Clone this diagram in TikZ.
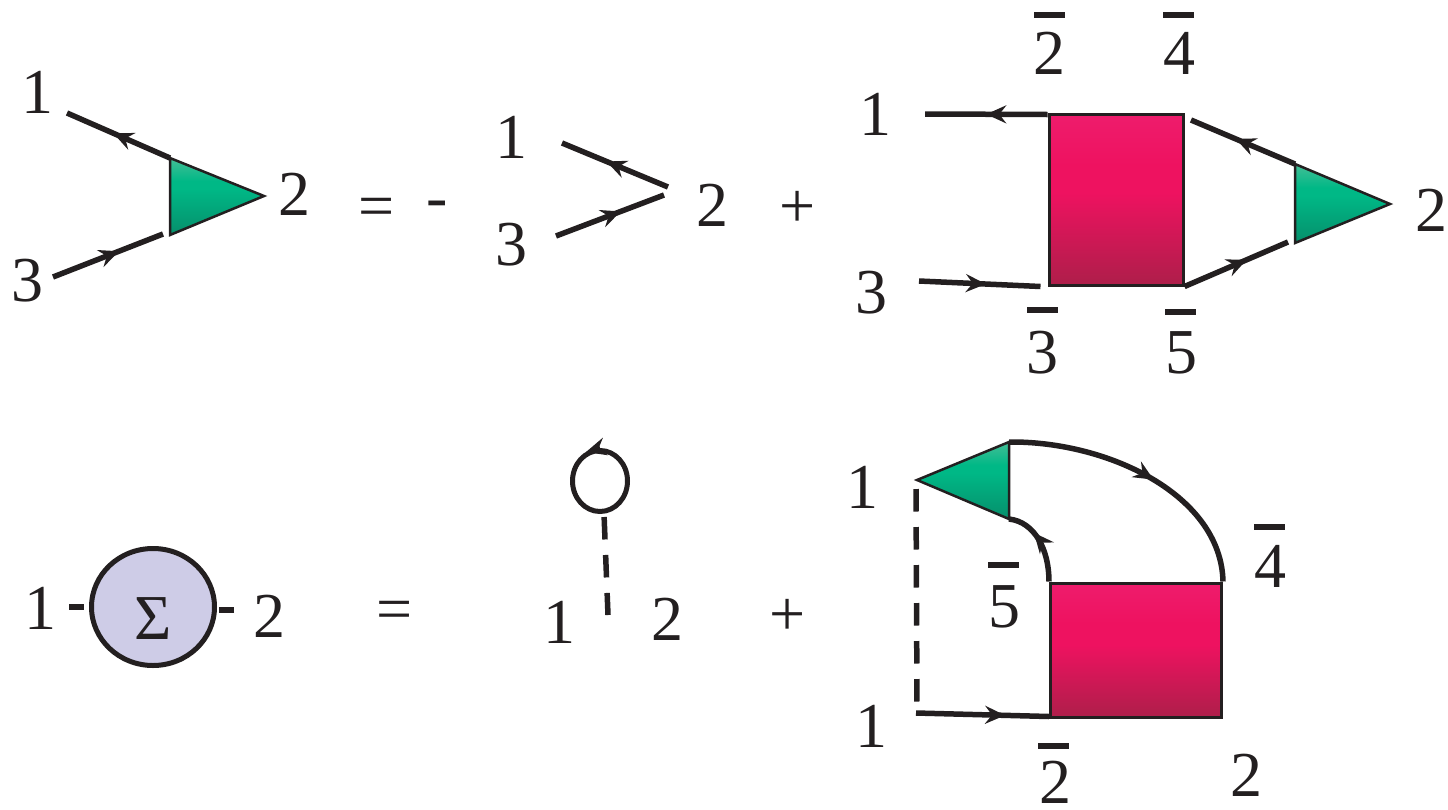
\documentclass[tikz,border=0pt]{standalone}
\usepackage{fontspec}
\setmainfont{Liberation Serif}
\usetikzlibrary{arrows.meta,decorations.markings,shapes.geometric}

\definecolor{ink}{HTML}{231F20}
\definecolor{sigmafill}{HTML}{CECCE7}
\definecolor{greentop}{HTML}{44BE96}
\definecolor{greenmid}{HTML}{00B886}
\definecolor{greenlow}{HTML}{068F6B}
\definecolor{pinktop}{HTML}{EE1C6C}
\definecolor{pinkmid}{HTML}{EE1260}
\definecolor{pinklow}{HTML}{AE1E4A}
\pgfdeclareverticalshading{greenfade}{100bp}{
    color(0bp)=(greenlow); color(25bp)=(greenlow); color(55bp)=(greenmid);
    color(60bp)=(greenmid); color(75bp)=(greentop); color(100bp)=(greentop)}
\pgfdeclareverticalshading{pinkfade}{100bp}{
    color(0bp)=(pinklow); color(25bp)=(pinklow); color(52bp)=(pinkmid);
    color(60bp)=(pinkmid); color(75bp)=(pinktop); color(100bp)=(pinktop)}

\begin{document}
\begin{tikzpicture}[
    x=1pt,
    y=-1pt,
    digit/.style={
        inner sep=0pt,
        text=ink,
        font=\fontsize{64}{64}\selectfont
    },
    barmark/.style={
        rectangle,
        fill=ink,
        inner sep=0pt,
        minimum width=31pt,
        minimum height=6pt
    },
    prop/.style={
        draw=ink,
        line width=5.5pt
    },
    dashprop/.style={
        prop,
        dash pattern=on 22.5pt off 15.5pt
    },
    midarrow/.style={
        postaction={
            decorate,
            decoration={
                markings,
                mark=at position #1 with {\arrow{Stealth[length=20pt,width=18pt,inset=7pt]}}
            }
        }
    },
    wedge/.style={
        draw=ink,
        line width=2.5pt,
        line join=miter,
        shading=greenfade
    },
    block/.style={
        rectangle,
        draw=ink,
        line width=3pt,
        inner sep=0pt,
        shading=pinkfade
    }
]

    \useasboundingbox (0,0) rectangle (1448,809);

    % First row, left
    \coordinate (Aa) at (170,158);
    \coordinate (Ab) at (264,196);
    \coordinate (Ac) at (170,235);
    \coordinate (Ain) at (67,113);
    \coordinate (Aout) at (53,277);
    \coordinate (Aend) at (163,234);
    \draw[wedge] (Aa) -- (Ab) -- (Ac) -- cycle;
    \draw[prop,midarrow=.55] (Aa) -- (Ain);
    \draw[prop,midarrow=.60] (Aout) -- (Aend);
    \node[digit] (A1) at (37,92) {1};
    \node[digit] (A3) at (27,281) {3};
    \node[digit] (A2) at (294,194) {2};
    \node[digit] (eqA) at (377,213) {=};
    \node[digit] (minus) at (437,210) {-};

    % First row, bare vertex
    \coordinate (Ba) at (668,187);
    \coordinate (Bb) at (562,143);
    \coordinate (Bc) at (556,236);
    \coordinate (Bd) at (664,195);
    \draw[prop,midarrow=.58] (Ba) -- (Bb);
    \draw[prop,midarrow=.60] (Bc) -- (Bd);
    \node[digit] (B1) at (511,137) {1};
    \node[digit] (B3) at (511,245) {3};
    \node[digit] (B2) at (712,205) {2};
    \node[digit] (plusB) at (798,209) {+};

    % First row, right
    \node[block,minimum width=134pt,minimum height=171pt] (K1) at (1116,199.5) {};
    \coordinate (Ca) at (1295,164);
    \coordinate (Cb) at (1390,204);
    \coordinate (Cc) at (1295,243);
    \coordinate (Cin) at (925,114);
    \coordinate (Cout) at (919,281);
    \coordinate (Cup) at (1191,120);
    \coordinate (Clow) at (1288,242);
    \draw[wedge] (Ca) -- (Cb) -- (Cc) -- cycle;
    \draw[prop,midarrow=.50] ([yshift=-2pt]K1.north west) -- (Cin);
    \draw[prop,midarrow=.55] (Cout) -- ([xshift=-7pt]K1.south west);
    \draw[prop,midarrow=.57] (Ca) -- (Cup);
    \draw[prop,midarrow=.60] (K1.south east) -- (Clow);
    \node[digit] (C1) at (875,114) {1};
    \node[digit] (C3) at (871,293) {3};
    \node[digit] (C2) at (1431,210) {2};
    \node[barmark] (Cbar2) at (1049,15) {};
    \node[digit] (Cd2) at (1049,53) {2};
    \node[barmark] (Cbar4) at (1178,15) {};
    \node[digit] (Cd4) at (1179,53) {4};
    \node[barmark] (Cbar3) at (1042,310) {};
    \node[digit] (Cd3) at (1042,353) {3};
    \node[barmark] (Cbar5) at (1180,312) {};
    \node[digit] (Cd5) at (1181,353) {5};

    % Second row, left
    \node[ellipse,draw=ink,line width=5pt,fill=sigmafill,minimum width=123pt,minimum height=117pt,inner sep=0pt] (S) at (153,607) {};
    \node[digit] (Ssym) at (153,619) {Σ};
    \coordinate (Sl) at (69,607);
    \coordinate (Sr) at (234,610);
    \draw[prop,line width=6pt,shorten >=5pt] (Sl) -- (S.west);
    \draw[prop,line width=6pt,shorten >=2pt] (Sr) -- ([yshift=-3pt]S.east);
    \node[digit] (S1) at (40,608) {1};
    \node[digit] (S2) at (269,616) {2};
    \node[digit] (eqS) at (395,616) {=};

    % Second row, tadpole
    \node[ellipse,draw=ink,line width=5pt,minimum width=55pt,minimum height=61pt,inner sep=0pt] (T) at (600,481) {};
    \coordinate (Ttip) at (586,452);
    \coordinate (Tfoot) at (608,615);
    \draw[prop,-{Stealth[length=20pt,width=18pt,inset=7pt]}] (T.north) -- (Ttip);
    \draw[dashprop,shorten <=3pt] ([xshift=4pt]T.south) -- (Tfoot);
    \node[digit] (T1) at (559,622) {1};
    \node[digit] (T2) at (667,619) {2};
    \node[digit] (plusT) at (788,617) {+};

    % Second row, right
    \node[block,minimum width=171pt,minimum height=134pt] (K2) at (1136,650) {};
    \coordinate (Da) at (917,480);
    \coordinate (Db) at (1009,442);
    \coordinate (Dc) at (1009,519);
    \coordinate (Dtop) at (916,489);
    \coordinate (Dbot) at (917,705);
    \coordinate (Din) at (916,713);
    \draw[wedge] (Da) -- (Db) -- (Dc) -- cycle;
    \draw[prop,midarrow=.54] (Db) .. controls (1108,441) and (1221,495) .. (K2.north east);
    \draw[prop,midarrow=.64] (K2.north west) .. controls (1049,550) and (1035,522) .. (Dc);
    \draw[prop,midarrow=.67] (Din) -- ([yshift=2pt]K2.south west);
    \draw[dashprop] (Dtop) -- (Dbot);
    \node[digit] (D1) at (862,487) {1};
    \node[digit] (D1b) at (871,726) {1};
    \node[digit] (D2) at (1246,775) {2};
    \node[barmark] (Dbar5) at (1003,565) {};
    \node[digit] (Dd5) at (1004,607) {5};
    \node[barmark] (Dbar4) at (1269,527) {};
    \node[digit] (Dd4) at (1270,566) {4};
    \node[barmark] (Dbar2) at (1053,746) {};
    \node[digit] (Dd2) at (1055,782) {2};

\end{tikzpicture}
\end{document}
